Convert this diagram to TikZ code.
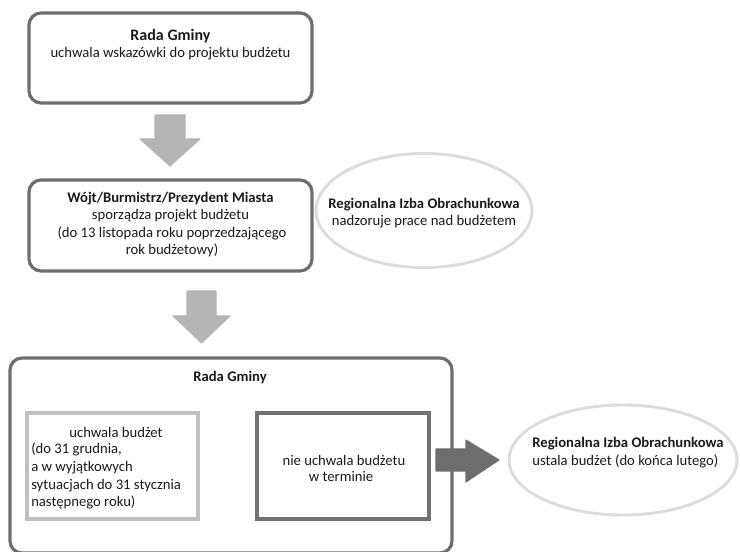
\documentclass[tikz,border=0pt]{standalone}
\usepackage{fontspec}
\setmainfont{Carlito}
\usetikzlibrary{shapes.geometric}
\definecolor{boxgray}{HTML}{6E6E6E}
\definecolor{arrowlight}{HTML}{B5B5B5}
\definecolor{ellgray}{HTML}{DCDCDC}
\definecolor{innerlight}{HTML}{C0C0C0}
\definecolor{innerdark}{HTML}{727272}
\definecolor{txt}{HTML}{1A1A1A}
\tikzset{
  roundbox/.style={draw=boxgray, line width=2.4pt, rounded corners=9pt},
  ellbox/.style={draw=ellgray, line width=2.2pt},
  lbl/.style={text=txt, font=\fontsize{11pt}{13.4pt}\selectfont, align=center, inner sep=0pt},
  blockarrow/.style={fill=#1, draw=#1, line width=0.8pt, line join=round},
}
\begin{document}
\begin{tikzpicture}[x=0.75pt, y=-0.75pt]
\useasboundingbox (0,0) rectangle (740,552);
% top box
\draw[roundbox] (29,13) rectangle (312,103);
\node[lbl] (t1) at (170.5,36) {\textbf{\fontsize{12pt}{14pt}\selectfont Rada Gminy}};
\node[lbl] (t2) at (170.5,54) {uchwala wskazówki do projektu budżetu};
% arrow 1
\draw[blockarrow=arrowlight] (155,115) -- (185,115) -- (185,139) -- (200,139) -- (170,166) -- (140,139) -- (155,139) -- cycle;
% middle box
\draw[roundbox] (29,180) rectangle (312,271);
\node[lbl] (m1) at (170.5,199) {\textbf{Wójt/Burmistrz/Prezydent Miasta}};
\node[lbl] (m2) at (170.5,216) {sporządza projekt budżetu};
\node[lbl] (m3) at (172,233) {(do 13 listopada roku poprzedzającego};
\node[lbl] (m4) at (172,250) {rok budżetowy)};
% ellipse 1
\draw[ellbox] (424,210.5) ellipse [x radius=108, y radius=57];
\node[lbl] (e1) at (424,205) {\textbf{Regionalna Izba Obrachunkowa}};
\node[lbl] (e2) at (424,222) {nadzoruje prace nad budżetem};
% arrow 2
\draw[blockarrow=arrowlight] (187,291) -- (216,291) -- (216,316) -- (230,316) -- (201.5,343) -- (173,316) -- (187,316) -- cycle;
% bottom box
\draw[roundbox] (10,358) rectangle (452,553);
\node[lbl] (b1) at (230,378) {\textbf{Rada Gminy}};
% inner left
\draw[draw=innerlight, line width=3pt] (27,413) rectangle (198,519);
\node[lbl] (l1) at (116,432) {uchwala budżet};
\node[lbl, align=left, anchor=west] (l2) at (31,476) {(do 31 grudnia,\\a w wyjątkowych\\sytuacjach do 31 stycznia\\następnego roku)};
% inner right
\draw[draw=innerdark, line width=3pt] (257,413) rectangle (429,519);
\node[lbl] (r1) at (344,460) {nie uchwala budżetu};
\node[lbl] (r2) at (341,477) {w terminie};
% arrow 3
\draw[blockarrow=boxgray] (436,449) -- (466,449) -- (466,440) -- (499,460) -- (466,482) -- (466,471) -- (436,471) -- cycle;
% ellipse 2
\draw[ellbox] (623,460) ellipse [x radius=114, y radius=55];
\node[lbl, align=left] (f1) at (628,453) {\textbf{Regionalna Izba Obrachunkowa}\\ustala budżet (do końca lutego)};
\end{tikzpicture}
\end{document}
